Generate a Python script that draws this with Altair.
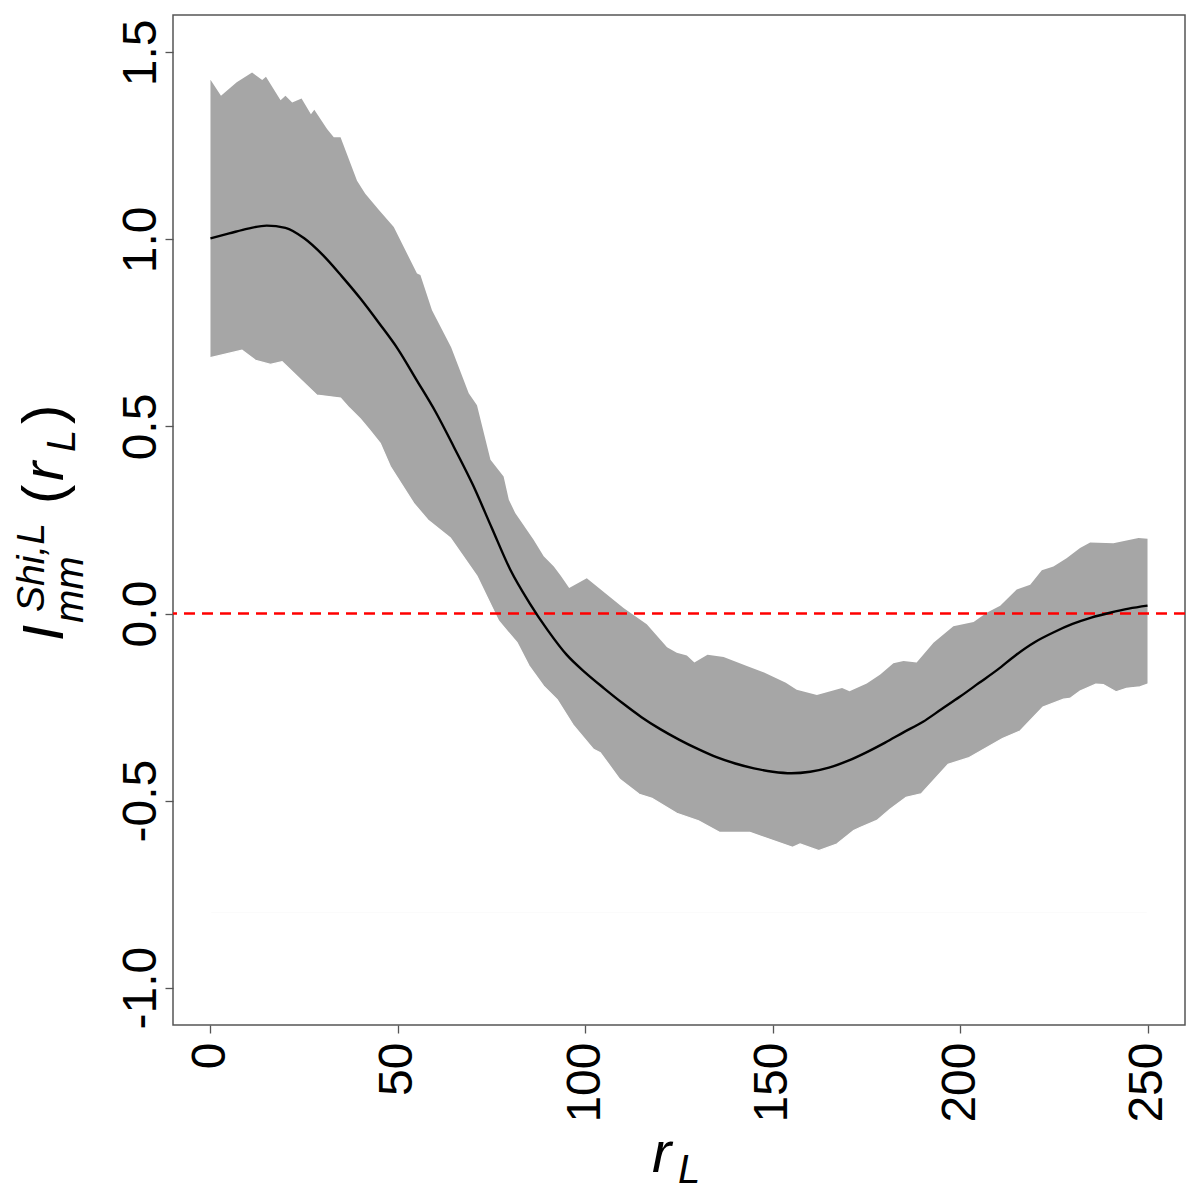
import altair as alt
import pandas as pd

# ---- data ----
mean_x = [0, 5, 10, 15, 20, 25, 30, 35, 40, 45, 50, 55, 60, 65, 70, 75, 80, 85, 90, 95,
          100, 105, 110, 115, 120, 125, 130, 135, 140, 145, 150, 155, 160, 165, 170, 175,
          180, 185, 190, 195, 200, 205, 210, 215, 220, 225, 230, 235, 240, 245, 250]
mean_y = [1.003, 1.016, 1.029, 1.037, 1.031, 1.003, 0.958, 0.902, 0.842, 0.776, 0.707,
          0.624, 0.540, 0.444, 0.344, 0.230, 0.117, 0.030, -0.045, -0.110, -0.158, -0.200,
          -0.240, -0.277, -0.309, -0.337, -0.362, -0.384, -0.401, -0.414, -0.423, -0.427,
          -0.423, -0.412, -0.394, -0.371, -0.345, -0.317, -0.290, -0.256, -0.222, -0.186,
          -0.150, -0.110, -0.076, -0.050, -0.028, -0.011, 0.002, 0.013, 0.021]

upper_x = [0, 2.8, 7, 11.1, 13.8, 14.8, 18.7, 20, 21.8, 24.3, 26.8, 27.7, 31.1, 32.9, 34.7,
           39.1, 41.3, 45, 48.9, 55.1, 56, 59.1, 64.2, 68.9, 71.1, 74.7, 78.2, 79.6, 81.3,
           86.2, 88.9, 91.6, 93.5, 95.7, 100.4, 110.2, 112, 116.4, 121.8, 124.4, 127.1,
           129.1, 132.6, 136.9, 143.1, 147.7, 153.5, 156.4, 161.8, 168.5, 170.5, 175.1,
           178.7, 182.2, 184.9, 188.4, 192.9, 198.2, 203.6, 207.1, 210.7, 215.1, 218.7,
           221.8, 224.9, 228.4, 232, 234.7, 240.9, 244.4, 247.6, 250]
upper_y = [1.427, 1.384, 1.420, 1.446, 1.426, 1.435, 1.372, 1.384, 1.366, 1.377, 1.335,
           1.347, 1.295, 1.273, 1.273, 1.157, 1.122, 1.078, 1.033, 0.909, 0.905, 0.811,
           0.712, 0.589, 0.557, 0.411, 0.366, 0.304, 0.269, 0.197, 0.153, 0.126, 0.100,
           0.068, 0.094, 0.015, 0.002, -0.029, -0.090, -0.105, -0.112, -0.131, -0.110,
           -0.116, -0.140, -0.158, -0.185, -0.204, -0.218, -0.199, -0.208, -0.187, -0.163,
           -0.133, -0.127, -0.131, -0.078, -0.034, -0.023, 0.002, 0.021, 0.064, 0.077,
           0.116, 0.126, 0.148, 0.175, 0.190, 0.188, 0.195, 0.202, 0.200]

lower_x = [0, 8.4, 12, 16, 19.1, 28.4, 34.7, 37, 40, 42.5, 45.3, 48, 54.2, 58, 64, 71.1,
           76.9, 81.8, 85, 88.9, 92.5, 96.9, 102.2, 104, 109.2, 114.4, 117.8, 124.4, 130.2,
           135.8, 143.9, 155.3, 157.3, 162.3, 167.1, 171.6, 173.3, 177.8, 181.3, 185.6,
           189.6, 196.8, 202.2, 211.3, 216, 222.1, 227.6, 229.3, 232, 236.2, 238.2, 241.6,
           244.4, 248, 250]
lower_y = [0.684, 0.704, 0.677, 0.666, 0.673, 0.584, 0.576, 0.550, 0.520, 0.490, 0.455,
           0.393, 0.295, 0.250, 0.202, 0.100, -0.020, -0.078, -0.140, -0.194, -0.230,
           -0.300, -0.363, -0.372, -0.443, -0.483, -0.494, -0.534, -0.554, -0.585, -0.585,
           -0.625, -0.616, -0.634, -0.616, -0.580, -0.572, -0.553, -0.523, -0.491, -0.482,
           -0.403, -0.386, -0.334, -0.314, -0.250, -0.229, -0.227, -0.207, -0.189, -0.190,
           -0.209, -0.200, -0.196, -0.189]

x_ticks = [0, 50, 100, 150, 200, 250]
y_ticks = [-1.0, -0.5, 0.0, 0.5, 1.0, 1.5]
ref_line = [0.0]
band_base = -0.8   # baseline for the fill trick (hidden under the white layer)

mean_df = pd.DataFrame({"x": mean_x, "y": mean_y})
up_df = pd.DataFrame({"x": upper_x, "y": upper_y})
lo_df = pd.DataFrame({"x": lower_x, "y": lower_y})
ref_df = pd.DataFrame({"y": ref_line})

FONT = "Liberation Sans"
AX = "#555555"

x_enc = alt.X("x:Q", scale=alt.Scale(domain=[-10, 260], nice=False, zero=False),
              axis=alt.Axis(values=x_ticks, title=None, grid=False, domain=False,
                            labelAngle=270, labelAlign="right", labelBaseline="middle",
                            labelFontSize=48, labelFont=FONT, labelColor="black",
                            labelPadding=9, tickSize=8, tickColor=AX, tickWidth=1.3,
                            labelFlush=False, labelOverlap=False, format="d"))
y_enc = alt.Y("y:Q", scale=alt.Scale(domain=[-1.1, 1.6], nice=False, zero=False),
              axis=alt.Axis(values=y_ticks, title=None, grid=False, domain=False,
                            labelAngle=270, labelAlign="center", labelBaseline="alphabetic",
                            labelFontSize=48, labelFont=FONT, labelColor="black",
                            labelPadding=10, tickSize=8, tickColor=AX, tickWidth=1.3,
                            labelFlush=False, labelOverlap=False,
                            labelExpr="(datum.value < 0 ? '-' : '') + format(abs(datum.value), '.1f')"))

gray = alt.Chart(up_df).mark_area(color="#A6A6A6", opacity=1).encode(
    x=x_enc, y=y_enc, y2=alt.datum(band_base))
white = alt.Chart(lo_df).mark_area(color="white", opacity=1, stroke="white",
                                   strokeWidth=1.2).encode(
    x=x_enc, y=y_enc, y2=alt.datum(band_base))
ref = alt.Chart(ref_df).mark_rule(color="#FF0000", strokeWidth=2.5,
                                  strokeDash=[11, 7]).encode(y=y_enc)
line = alt.Chart(mean_df).mark_line(color="black", strokeWidth=2.4,
                                    interpolate="monotone").encode(x=x_enc, y=y_enc)

one = pd.DataFrame({"k": [0]})


def txt(s, x, y, size, italic=True, angle=0):
    kw = dict(text=s, x=x, y=y, fontSize=size, font=FONT, color="black",
              align="left", baseline="alphabetic")
    if italic:
        kw["fontStyle"] = "italic"
    if angle:
        kw["angle"] = angle
    return alt.Chart(one).mark_text(**kw).encode(opacity=alt.value(1))


MAIN = 58
SUB = 40
titles = [
    # y-axis title: I_mm^{Shi,L}(r_L), rotated
    txt("I", -110, 626, MAIN, True, 270),
    txt("Shi,L", -129, 597, 39, True, 270),
    txt("mm", -90, 608, SUB, True, 270),
    txt("(", -110, 489, MAIN, False, 270),
    txt("r", -110, 466, MAIN, True, 270),
    txt("L", -98, 437, SUB, True, 270),
    txt(")", -110, 409, MAIN, False, 270),
    # x-axis title: r_L
    txt("r", 479, 1157, MAIN, True),
    txt("L", 505, 1168, SUB, True),
]

chart = alt.layer(gray, white, ref, line, *titles).properties(
    width=1012, height=1010,
    autosize=alt.AutoSizeParams(type="none"),
    padding={"left": 165, "top": 7, "right": 7, "bottom": 167},
    background="white",
).configure_view(stroke=AX, strokeWidth=1.5, fill=None)

chart.save("out.html", embed_options={"renderer": "svg", "actions": False})
